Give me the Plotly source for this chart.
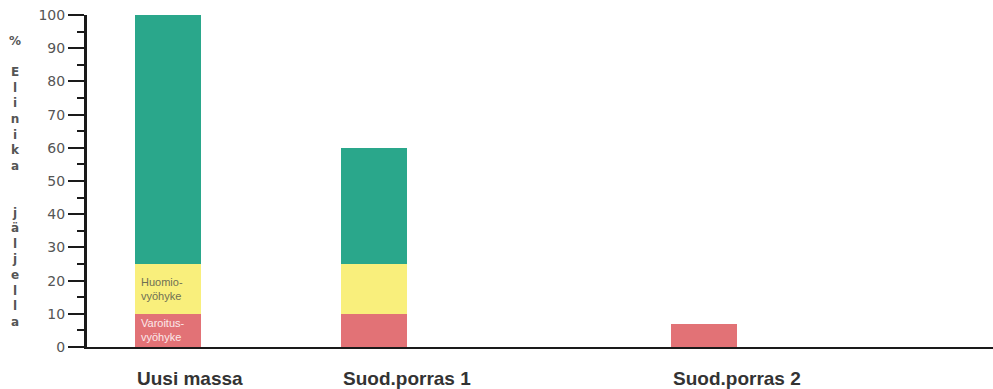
import plotly.graph_objects as go

# ---- data ----
categories = ["Uusi massa", "Suod.porras 1", "Suod.porras 2"]
varoitus = [10, 10, 7]      # red zone
huomio = [15, 15, 0]        # yellow zone
normaali = [75, 35, 0]      # teal zone
zone_labels = ["Huomio-<br>vyöhyke", "Varoitus-<br>vyöhyke"]
y_ticks = [0, 10, 20, 30, 40, 50, 60, 70, 80, 90, 100]
y_title_letters = ["%", "", "E", "l", "i", "n", "i", "k", "a", "", "",
                   "j", "ä", "l", "j", "e", "l", "l", "a"]

# ---- layout (slot positions of the bars on the x axis) ----
slots = [0, 5, 13]
bar_w = 1.6

RED = "#e27276"
YELLOW = "#f9ef7c"
TEAL = "#2aa78b"

fig = go.Figure()
for vals, col in [(varoitus, RED), (huomio, YELLOW), (normaali, TEAL)]:
    fig.add_trace(go.Bar(x=slots, y=vals, width=bar_w, marker=dict(color=col, line=dict(width=0)),
                         showlegend=False, hoverinfo="skip"))

L, T, B = 87, 15, 42
W, H = 993, 389
plot_w = W - L

fig.update_layout(
    barmode="stack",
    width=W, height=H,
    margin=dict(l=L, r=0, t=T, b=B),
    plot_bgcolor="white", paper_bgcolor="white",
    font=dict(family="DejaVu Sans", color="#444"),
    xaxis=dict(range=[-1.97, 20], showgrid=False, zeroline=False, showticklabels=False,
               ticks="", showline=True, linecolor="#1a1a1a", linewidth=2, fixedrange=True),
    yaxis=dict(range=[0, 100], tickvals=y_ticks, showgrid=False, zeroline=False,
               showline=True, linecolor="#1a1a1a", linewidth=3,
               ticks="outside", ticklen=16, tickwidth=2, tickcolor="#1a1a1a",
               tickfont=dict(size=14, color="#555", family="DejaVu Sans"),
               minor=dict(dtick=5, ticks="outside", ticklen=7, tickwidth=2, tickcolor="#1a1a1a"),
               fixedrange=True),
)

# category labels, left-aligned with bar left edge
for s, c in zip(slots, categories):
    fig.add_annotation(x=s - bar_w / 2, xref="x", xanchor="left", y=-0.095, yref="paper",
                       yanchor="middle", text=f"<b>{c}</b>", showarrow=False,
                       font=dict(family="Liberation Sans", size=19, color="#333"))

# zone texts inside first bar
fig.add_annotation(x=slots[0] - bar_w / 2 + 0.08, xref="x", xanchor="left",
                   y=varoitus[0] + huomio[0] / 2, yref="y", yanchor="middle",
                   text=zone_labels[0], showarrow=False, align="left",
                   font=dict(family="Liberation Sans", size=11, color="#6f6f55"))
fig.add_annotation(x=slots[0] - bar_w / 2 + 0.08, xref="x", xanchor="left",
                   y=varoitus[0] / 2, yref="y", yanchor="middle",
                   text=zone_labels[1], showarrow=False, align="left",
                   font=dict(family="Liberation Sans", size=11, color="#fbe9ea"))

# vertical stacked-letter y title
fig.add_annotation(x=(15 - L) / plot_w, xref="paper", xanchor="center",
                   y=0.5, yref="paper", yanchor="middle",
                   text="<br>".join(f"<b>{l}</b>" if l else " " for l in y_title_letters),
                   showarrow=False, align="center",
                   font=dict(family="DejaVu Sans", size=12, color="#555"))

fig.write_html("out.html", config={"displayModeBar": False},
               post_script="document.body.style.margin='0';")
